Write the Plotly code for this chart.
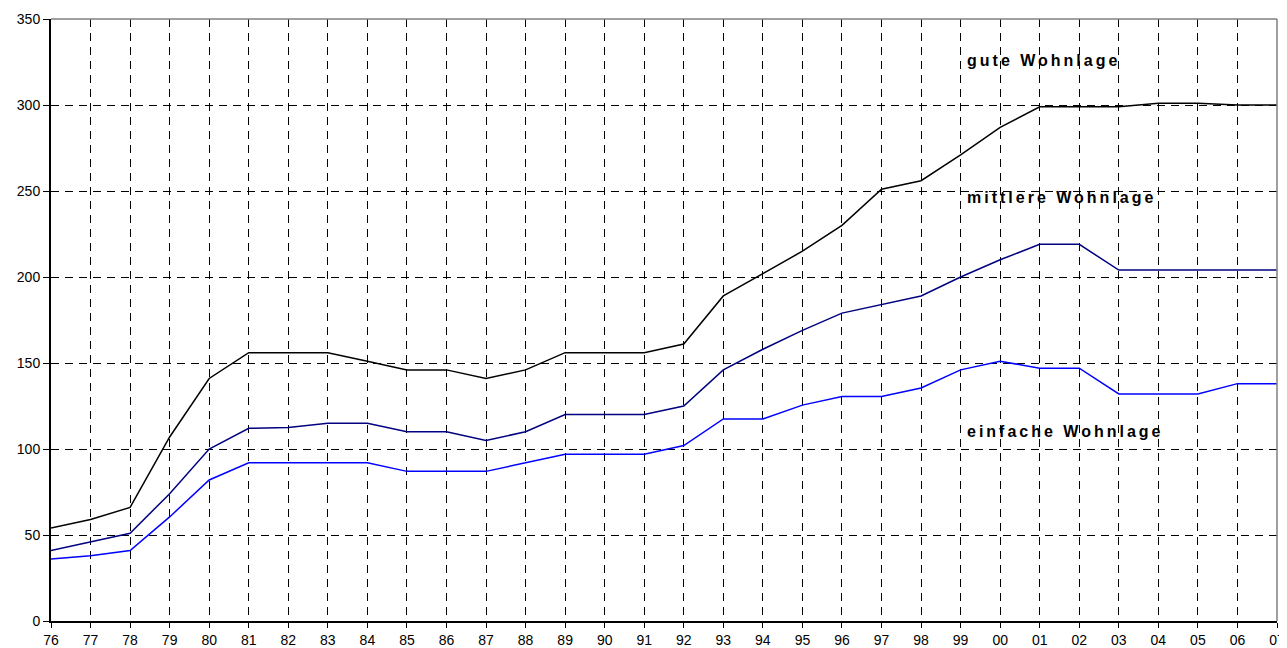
import plotly.graph_objects as go

years = ["76","77","78","79","80","81","82","83","84","85","86","87","88","89","90","91",
         "92","93","94","95","96","97","98","99","00","01","02","03","04","05","06","07"]

gute = [54, 59, 66, 107, 141, 156, 156, 156, 151, 146, 146, 141, 146, 156, 156, 156,
        161, 189, 202, 215, 230, 251, 256, 271, 287, 299, 299, 299, 301, 301, 300, 300]
mittlere = [41, 46, 51, 74, 100, 112, 112.5, 115, 115, 110, 110, 105, 110, 120, 120, 120,
            125, 146, 158, 169, 179, 184, 189, 200, 210, 219, 219, 204, 204, 204, 204, 204]
einfache = [36, 38, 41, 60.5, 82, 92, 92, 92, 92, 87, 87, 87, 92, 97, 97, 97,
            102, 117.5, 117.5, 125.5, 130.5, 130.5, 135.5, 146, 151, 147, 147, 132, 132, 132, 138, 138]

labels = ["gute Wohnlage", "mittlere Wohnlage", "einfache Wohnlage"]
label_y = [326, 246, 110]

x_idx = list(range(len(years)))

fig = go.Figure()
fig.add_trace(go.Scatter(x=x_idx, y=gute, mode="lines", line=dict(color="#000000", width=1.5), name=labels[0]))
fig.add_trace(go.Scatter(x=x_idx, y=mittlere, mode="lines", line=dict(color="#000080", width=1.5), name=labels[1]))
fig.add_trace(go.Scatter(x=x_idx, y=einfache, mode="lines", line=dict(color="#0000FF", width=1.5), name=labels[2]))

for t, yy in zip(labels, label_y):
    fig.add_annotation(x=23.1, y=yy, xref="x", yref="y", xanchor="left", yanchor="middle",
                       text='<b><span style="letter-spacing:3px">%s</span></b>' % t,
                       showarrow=False, font=dict(family="Liberation Sans, Arial", size=16, color="#000000"))

# page body has an 8px margin, so the figure is sized and offset to compensate
fig.update_layout(
    width=1279, height=640,
    margin=dict(l=43, r=10, t=11, b=27, autoexpand=False),
    paper_bgcolor="white", plot_bgcolor="white",
    showlegend=False,
    font=dict(family="Liberation Sans, Arial", size=14, color="#000000"),
)
fig.update_xaxes(
    range=[0, 31], tickmode="array", tickvals=x_idx, ticktext=years,
    showgrid=True, gridcolor="#000000", gridwidth=1, griddash="8px,6px",
    showline=True, linecolor="#000000", linewidth=2,
    ticks="outside", ticklen=5, tickcolor="#000000", tickfont=dict(size=14),
    zeroline=False, automargin=False, ticklabeloverflow="allow",
)
fig.update_yaxes(
    range=[0, 350], tick0=0, dtick=50,
    showgrid=True, gridcolor="#000000", gridwidth=1, griddash="8px,6px",
    showline=True, linecolor="#000000", linewidth=2,
    ticks="outside", ticklen=6, tickcolor="#000000", tickfont=dict(size=14),
    zeroline=False, automargin=False, ticklabeloverflow="allow",
)
# top and right frame
fig.add_shape(type="line", xref="paper", yref="paper", x0=0, x1=1, y0=1, y1=1,
              line=dict(color="#808080", width=1.5))
fig.add_shape(type="line", xref="paper", yref="paper", x0=1, x1=1, y0=0, y1=1,
              line=dict(color="#808080", width=1.5))

fig.write_html("out.html")
